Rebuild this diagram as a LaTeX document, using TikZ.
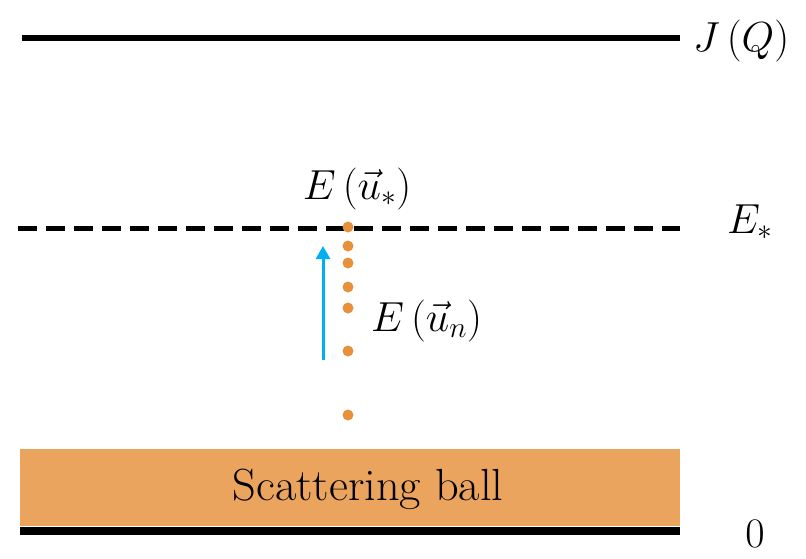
\RequirePackage{fix-cm}
\documentclass[tikz,border=0pt]{standalone}
\usetikzlibrary{arrows.meta}
\definecolor{ballfill}{RGB}{235,164,94}
\definecolor{dotorange}{RGB}{232,145,60}
\definecolor{arrowblue}{RGB}{0,176,240}
\tikzset{
  level/.style={line width=6pt},
  dashlevel/.style={line width=5pt, dash pattern=on 19pt off 9pt},
  lab/.style={inner sep=0pt, font=\fontsize{42}{48}\selectfont},
  dotn/.style={circle, fill=dotorange, minimum size=11pt, inner sep=0pt},
}
\begin{document}
\begin{tikzpicture}[x=1pt,y=-1pt]
\useasboundingbox (0,0) rectangle (806,558);
% top level
\coordinate (t1) at (22,38);
\coordinate (t2) at (680,38);
\draw[level] (t1) -- (t2);
\node[lab, anchor=base west] (jq) at (693,51) {$J\,(Q)$};
% dashed level
\coordinate (d1) at (18,228);
\coordinate (d2) at (680,228);
\draw[dashlevel] (d1) -- (d2);
\node[lab, anchor=base west] (es) at (727,233) {$E_*$};
% dots
\foreach \i/\y in {1/227,2/246,3/263,4/287,5/308,6/351,7/415}
  \node[dotn] (p\i) at (348,\y) {};
\node[lab, anchor=base] (eus) at (357,199) {$E\,(\vec{u}_*)$};
\node[lab, anchor=base west] (eun) at (371,331) {$E\,(\vec{u}_n)$};
% arrow
\coordinate (a1) at (323,360);
\coordinate (a2) at (323,246);
\draw[arrowblue, line width=3pt, -{Triangle[length=13pt,width=14pt]}] (a1) -- (a2);
% scattering ball
\node[fill=ballfill, minimum width=660pt, minimum height=77pt, inner sep=0pt, anchor=north west] (ball) at (20,449) {};
\node[inner sep=0pt, font=\fontsize{45}{50}\selectfont] (balltext) at (368,489) {\scalebox{1.03}[1]{Scattering ball}};
% bottom level
\coordinate (b1) at (20,531);
\coordinate (b2) at (680,531);
\draw[line width=8pt] (b1) -- (b2);
\node[lab, anchor=base] (zero) at (755,547) {$0$};
\end{tikzpicture}
\end{document}
